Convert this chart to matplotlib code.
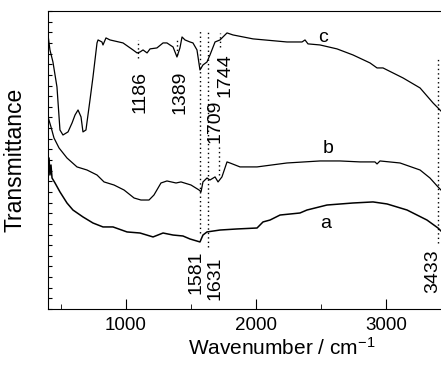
import numpy as np
import matplotlib
matplotlib.use("Agg")
import matplotlib.pyplot as plt

plt.rcParams['font.family'] = ['Liberation Sans', 'DejaVu Sans']
plt.rcParams['mathtext.default'] = 'regular'

# spectrum c (top)
wn_c = [400, 415, 438, 469, 492, 515, 554, 585, 608, 631, 654, 669, 692, 723, 746, 777, 785, 815, 823, 846,
        877, 977, 1054, 1085, 1108, 1131, 1162, 1185, 1238, 1285, 1315, 1338, 1362, 1392, 1415, 1431, 1454,
        1492, 1515, 1546, 1569, 1592, 1623, 1646, 1685, 1723, 1777, 1823, 1977, 2238, 2354, 2377, 2400, 2492,
        2623, 2746, 2877, 2931, 2977, 3131, 3262, 3362, 3400, 3423]
tr_c = [25.75, 24.34, 23.21, 20.86, 16.82, 16.35, 16.64, 17.48, 18.23, 18.70, 18.05, 16.64, 16.82, 19.64, 21.80,
        25.0, 25.28, 25.09, 24.81, 25.47, 25.28, 25.0, 24.34, 24.06, 24.15, 24.34, 24.06, 24.44, 24.53, 25.0,
        25.0, 24.81, 24.62, 23.68, 24.53, 25.56, 25.28, 25.09, 25.0, 24.34, 22.46, 22.93, 23.21, 23.87, 25.09,
        25.28, 25.94, 25.75, 25.38, 25.09, 25.09, 25.28, 24.91, 24.81, 24.44, 23.87, 23.12, 22.65, 22.65, 21.71,
        20.77, 19.36, 18.89, 18.6]

# spectrum b (middle)
wn_b = [400, 423, 446, 485, 546, 623, 700, 777, 831, 908, 985, 1062, 1115, 1177, 1215, 1269, 1315, 1385, 1423,
        1500, 1562, 1577, 1592, 1623, 1646, 1685, 1708, 1738, 1777, 1800, 1877, 2008, 2238, 2492, 2646, 2800,
        2915, 2931, 2954, 3108, 3262, 3338, 3400, 3423]
tr_b = [18.05, 17.11, 16.07, 15.13, 14.19, 13.35, 13.06, 12.59, 11.94, 11.65, 11.18, 10.43, 10.24, 10.24, 10.71,
        11.84, 12.03, 11.84, 11.94, 11.65, 11.18, 11.0, 11.94, 12.31, 12.12, 12.41, 11.94, 12.41, 13.82, 13.72,
        13.35, 13.35, 13.72, 13.91, 13.91, 13.82, 13.82, 13.63, 13.91, 13.72, 13.06, 12.31, 11.47, 11.18]

# spectrum a (bottom)
wn_a = [400, 408, 415, 423, 431, 454, 492, 546, 592, 669, 746, 823, 900, 1008, 1108, 1208, 1285, 1362, 1438,
        1492, 1569, 1592, 1623, 1723, 1854, 2008, 2054, 2108, 2185, 2338, 2392, 2546, 2746, 2900, 3008, 3162,
        3315, 3400, 3423]
tr_a = [13.06, 14.19, 12.59, 13.53, 12.31, 11.84, 11.0, 9.96, 9.30, 8.65, 8.08, 7.71, 7.71, 7.24, 7.14, 6.77,
        7.14, 6.95, 6.86, 6.58, 6.30, 6.95, 7.24, 7.42, 7.52, 7.61, 8.18, 8.36, 8.83, 9.02, 9.30, 9.77, 9.96,
        10.06, 9.87, 9.30, 8.36, 7.61, 7.33]

# marked bands: label, line position, line y-range, label position
band_labels = ["1186", "1389", "1581", "1631", "1709", "1744", "3433"]
band_pos = [1092, 1392, 1573, 1627, 1715, 1723, 3400]
band_ymin = [23.59, 23.87, 7.14, 5.83, 12.59, 24.62, 6.20]
band_ymax = [25.28, 25.28, 26.22, 26.22, 15.41, 25.94, 23.68]
label_x = [1104, 1412, 1538, 1681, 1688, 1762, 3360]
label_y = [20.39, 20.39, 3.48, 2.91, 17.67, 21.99, 3.57]

curve_names = ["a", "b", "c"]
curve_name_x = [2535, 2554, 2515]
curve_name_y = [8.04, 15.04, 25.52]

fig = plt.figure(figsize=(4.41, 3.66), dpi=100)
ax = fig.add_axes([48/441, 57/366, (516-48)/441, 298/366])

ax.plot(wn_c, tr_c, color='black', lw=0.9)
ax.plot(wn_b, tr_b, color='black', lw=0.9)
ax.plot(wn_a, tr_a, color='black', lw=1.1)

for i in range(len(band_labels)):
    ax.plot([band_pos[i], band_pos[i]], [band_ymin[i], band_ymax[i]], color='black',
            lw=1.0, linestyle=(0, (1, 2.2)))
    ax.text(label_x[i], label_y[i], band_labels[i], rotation=90, ha='center', va='center', fontsize=14)

for i in range(len(curve_names)):
    ax.text(curve_name_x[i], curve_name_y[i], curve_names[i], ha='center', va='center', fontsize=14)

ax.set_xlim(400, 4000)
ax.set_ylim(0, 28)
ax.set_xticks([1000, 2000, 3000])
ax.set_xticks([500, 1500, 2500, 3500], minor=True)
ax.set_yticks(np.arange(0, 29, 1))
ax.set_yticklabels([])
ax.tick_params(axis='x', which='major', direction='in', length=7, labelsize=13.5, pad=6)
ax.tick_params(axis='x', which='minor', direction='in', length=3.5)
ax.tick_params(axis='y', direction='in', length=3)

ax.set_xlabel("Wavenumber / cm$^{-1}$", fontsize=15, labelpad=2)
ax.set_ylabel("Transmittance", fontsize=16.5, labelpad=12)

fig.savefig("out.png", dpi=100)
